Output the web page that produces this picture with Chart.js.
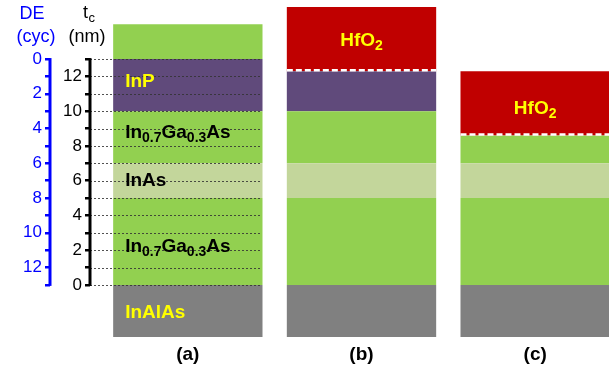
<!DOCTYPE html>
<html>
<head>
<meta charset="utf-8">
<title>Channel layer stack</title>
<style>
  html, body { margin: 0; padding: 0; overflow: hidden; background: #ffffff; }
  canvas { display: block; }
</style>
<script src="https://cdn.jsdelivr.net/npm/chart.js@4.4.1/dist/chart.umd.min.js"></script>
</head>
<body>
<canvas id="stack" width="622" height="372" style="width:622px;height:372px"></canvas>
<script>
// Sample stages
const columns = ['(a)', '(b)', '(c)'];

// Layer bounds in nm, measured from the InAlAs / In0.7Ga0.3As interface
const inAlAs    = [[-3, 0], [-3, 0], [-3, 0]];
const inGaAsLow = [[0, 5], [0, 5], [0, 5]];
const inAs      = [[5, 7], [5, 7], [5, 7]];
const inGaAsUp  = [[7, 10], [7, 10], [7, 8.6]];
const inP       = [[10, 13], [10, 12.3], null];
const inGaAsCap = [[13, 15], null, null];
const hfO2      = [null, [12.3, 16], [8.6, 12.3]];

// Axis ticks: channel thickness t_c (nm) and digital-etch cycles DE
const tcTicks  = [0, 1, 2, 3, 4, 5, 6, 7, 8, 9, 10, 11, 12, 13];
const tcLabels = [0, 2, 4, 6, 8, 10, 12];
const deTicks  = [0, 1, 2, 3, 4, 5, 6, 7, 8, 9, 10, 11, 12, 13];
const deLabels = [0, 2, 4, 6, 8, 10, 12];
const deOrigin = 13;   // DE = 0 cycles sits at t_c = 13 nm

// Layer names written inside the bars: [text, isSubscript]
const layerNames = [
  { col: 0, at: 11.8,  parts: [['InP']], color: '#ffff00', align: 'left' },
  { col: 0, at: 8.85,  parts: [['In'], ['0.7', 1], ['Ga'], ['0.3', 1], ['As']], color: '#000000', align: 'left' },
  { col: 0, at: 6.1,   parts: [['InAs']], color: '#000000', align: 'left' },
  { col: 0, at: 2.3,   parts: [['In'], ['0.7', 1], ['Ga'], ['0.3', 1], ['As']], color: '#000000', align: 'left' },
  { col: 0, at: -1.55, parts: [['InAlAs']], color: '#ffff00', align: 'left' },
  { col: 1, at: 14.15, parts: [['HfO'], ['2', 1]], color: '#ffff00', align: 'center' },
  { col: 2, at: 10.2,  parts: [['HfO'], ['2', 1]], color: '#ffff00', align: 'center' }
];

const FONT = '"Liberation Sans", Arial, Helvetica, sans-serif';
const Y_MIN = -3, Y_MAX = 16.4;

const layers = [
  { label: 'InAlAs',        data: inAlAs,    color: '#808080' },
  { label: 'In0.7Ga0.3As',  data: inGaAsLow, color: '#92d050' },
  { label: 'InAs',          data: inAs,      color: '#c3d69b' },
  { label: 'In0.7Ga0.3As',  data: inGaAsUp,  color: '#92d050' },
  { label: 'InP',           data: inP,       color: '#604a7b' },
  { label: 'In0.7Ga0.3As',  data: inGaAsCap, color: '#92d050' },
  { label: 'HfO2',          data: hfO2,      color: '#c00000' }
];
const HFO2_INDEX = layers.length - 1;

// keep tick-label overhang from shrinking the plot area
function noOverhang(s) {
  s.paddingTop = 0; s.paddingBottom = 0; s.paddingLeft = 0; s.paddingRight = 0;
}

function drawRich(ctx, parts, x, yMid, align, color) {
  const mainFont = 'bold 19px ' + FONT;
  const subFont = 'bold 14px ' + FONT;
  let total = 0;
  parts.forEach(p => { ctx.font = p[1] ? subFont : mainFont; total += ctx.measureText(p[0]).width; });
  let cx = align === 'center' ? x - total / 2 : x;
  const base = yMid + 6.6;
  ctx.fillStyle = color;
  ctx.textAlign = 'left';
  ctx.textBaseline = 'alphabetic';
  parts.forEach(p => {
    ctx.font = p[1] ? subFont : mainFont;
    ctx.fillText(p[0], cx, p[1] ? base + 4 : base);
    cx += ctx.measureText(p[0]).width;
  });
}

const stackDecor = {
  id: 'stackDecor',
  afterDatasetsDraw(chart) {
    const ctx = chart.ctx;
    const tc = chart.scales.tc;
    const first = chart.getDatasetMeta(0).data;

    // dotted thickness guides running across sample (a)
    const a = first[0];
    const gx0 = tc.right, gx1 = a.x + a.width / 2 - 2;
    ctx.save();
    ctx.strokeStyle = 'rgba(50,50,50,0.85)';
    ctx.lineWidth = 1;
    ctx.setLineDash([2, 2]);
    tcTicks.forEach(v => {
      const y = Math.round(tc.getPixelForValue(v)) + 0.5;
      ctx.beginPath();
      ctx.moveTo(gx0, y);
      ctx.lineTo(gx1, y);
      ctx.stroke();
    });
    ctx.restore();

    // dashed white line where HfO2 meets the semiconductor
    ctx.save();
    ctx.strokeStyle = '#ffffff';
    ctx.lineWidth = 2.5;
    ctx.setLineDash([6, 3]);
    chart.getDatasetMeta(HFO2_INDEX).data.forEach((el, i) => {
      if (!hfO2[i]) return;
      const yb = Math.max(el.y, el.base) - 1;
      ctx.beginPath();
      ctx.moveTo(el.x - el.width / 2, yb);
      ctx.lineTo(el.x + el.width / 2, yb);
      ctx.stroke();
    });
    ctx.restore();

    // layer names
    ctx.save();
    layerNames.forEach(n => {
      const el = first[n.col];
      const y = tc.getPixelForValue(n.at);
      const x = n.align === 'center' ? el.x : el.x - el.width / 2 + 12;
      drawRich(ctx, n.parts, x, y, n.align, n.color);
    });
    ctx.restore();
  },
  afterDraw(chart) {
    const ctx = chart.ctx;
    const tc = chart.scales.tc;
    const de = chart.scales.de;
    ctx.save();
    // axis spines limited to the channel range
    ctx.lineWidth = 3;
    ctx.strokeStyle = '#000000';
    ctx.beginPath();
    ctx.moveTo(tc.right, tc.getPixelForValue(tcTicks[0]) + 1);
    ctx.lineTo(tc.right, tc.getPixelForValue(tcTicks[tcTicks.length - 1]) - 1);
    ctx.stroke();
    ctx.strokeStyle = '#0000ff';
    ctx.beginPath();
    ctx.moveTo(de.right, de.getPixelForValue(deTicks[0]) - 1);
    ctx.lineTo(de.right, de.getPixelForValue(deTicks[deTicks.length - 1]) + 1);
    ctx.stroke();

    // axis titles
    ctx.textBaseline = 'middle';
    ctx.textAlign = 'center';
    ctx.fillStyle = '#0000ff';
    ctx.font = '18px ' + FONT;
    ctx.fillText('DE', de.right - 18, 14);
    ctx.fillText('(cyc)', de.right - 14, 37);
    ctx.fillStyle = '#000000';
    ctx.fillText('(nm)', tc.right - 3, 37);
    ctx.textAlign = 'left';
    ctx.fillText('t', tc.right - 7, 13);
    ctx.font = '13px ' + FONT;
    ctx.fillText('c', tc.right - 1.5, 18);
    ctx.restore();
  }
};

new Chart(document.getElementById('stack'), {
  type: 'bar',
  data: {
    labels: columns,
    datasets: layers.map(l => ({
      label: l.label,
      data: l.data,
      backgroundColor: l.color,
      borderWidth: 0,
      grouped: false,
      barPercentage: 0.86,
      categoryPercentage: 1,
      yAxisID: 'y'
    }))
  },
  options: {
    responsive: false,
    maintainAspectRatio: false,
    animation: false,
    layout: { padding: 0 },
    plugins: { legend: { display: false }, tooltip: { enabled: false } },
    scales: {
      x: {
        type: 'category',
        offset: true,
        grid: { display: false, drawTicks: false },
        border: { display: false },
        ticks: { color: '#000000', padding: 6, font: { family: FONT, size: 19, weight: 'bold' } },
        afterFit(s) { s.height = 35; noOverhang(s); }
      },
      y: {
        type: 'linear',
        position: 'left',
        weight: 0,
        min: Y_MIN,
        max: Y_MAX,
        ticks: { display: false },
        grid: { display: false, drawTicks: false },
        border: { display: false },
        afterFit(s) { s.width = 11; noOverhang(s); }
      },
      tc: {
        type: 'linear',
        position: 'left',
        weight: 1,
        min: Y_MIN,
        max: Y_MAX,
        afterBuildTicks(s) { s.ticks = tcTicks.map(v => ({ value: v })); },
        ticks: {
          autoSkip: false,
          color: '#000000',
          padding: 3,
          font: { family: FONT, size: 17 },
          callback: v => (tcLabels.includes(v) ? String(v) : '')
        },
        grid: { display: true, drawOnChartArea: false, drawTicks: true, tickLength: 5, color: '#000000', lineWidth: 2.5 },
        border: { display: false },
        afterFit(s) { s.width = 40; noOverhang(s); }
      },
      de: {
        type: 'linear',
        position: 'left',
        weight: 2,
        reverse: true,
        min: deOrigin - Y_MAX,
        max: deOrigin - Y_MIN,
        afterBuildTicks(s) { s.ticks = deTicks.map(v => ({ value: v })); },
        ticks: {
          autoSkip: false,
          color: '#0000ff',
          padding: 3,
          font: { family: FONT, size: 17 },
          callback: v => (deLabels.includes(v) ? String(v) : '')
        },
        grid: { display: true, drawOnChartArea: false, drawTicks: true, tickLength: 5, color: '#0000ff', lineWidth: 2.5 },
        border: { display: false },
        afterFit(s) { s.width = 50; noOverhang(s); }
      }
    }
  },
  plugins: [stackDecor]
});
</script>
</body>
</html>
